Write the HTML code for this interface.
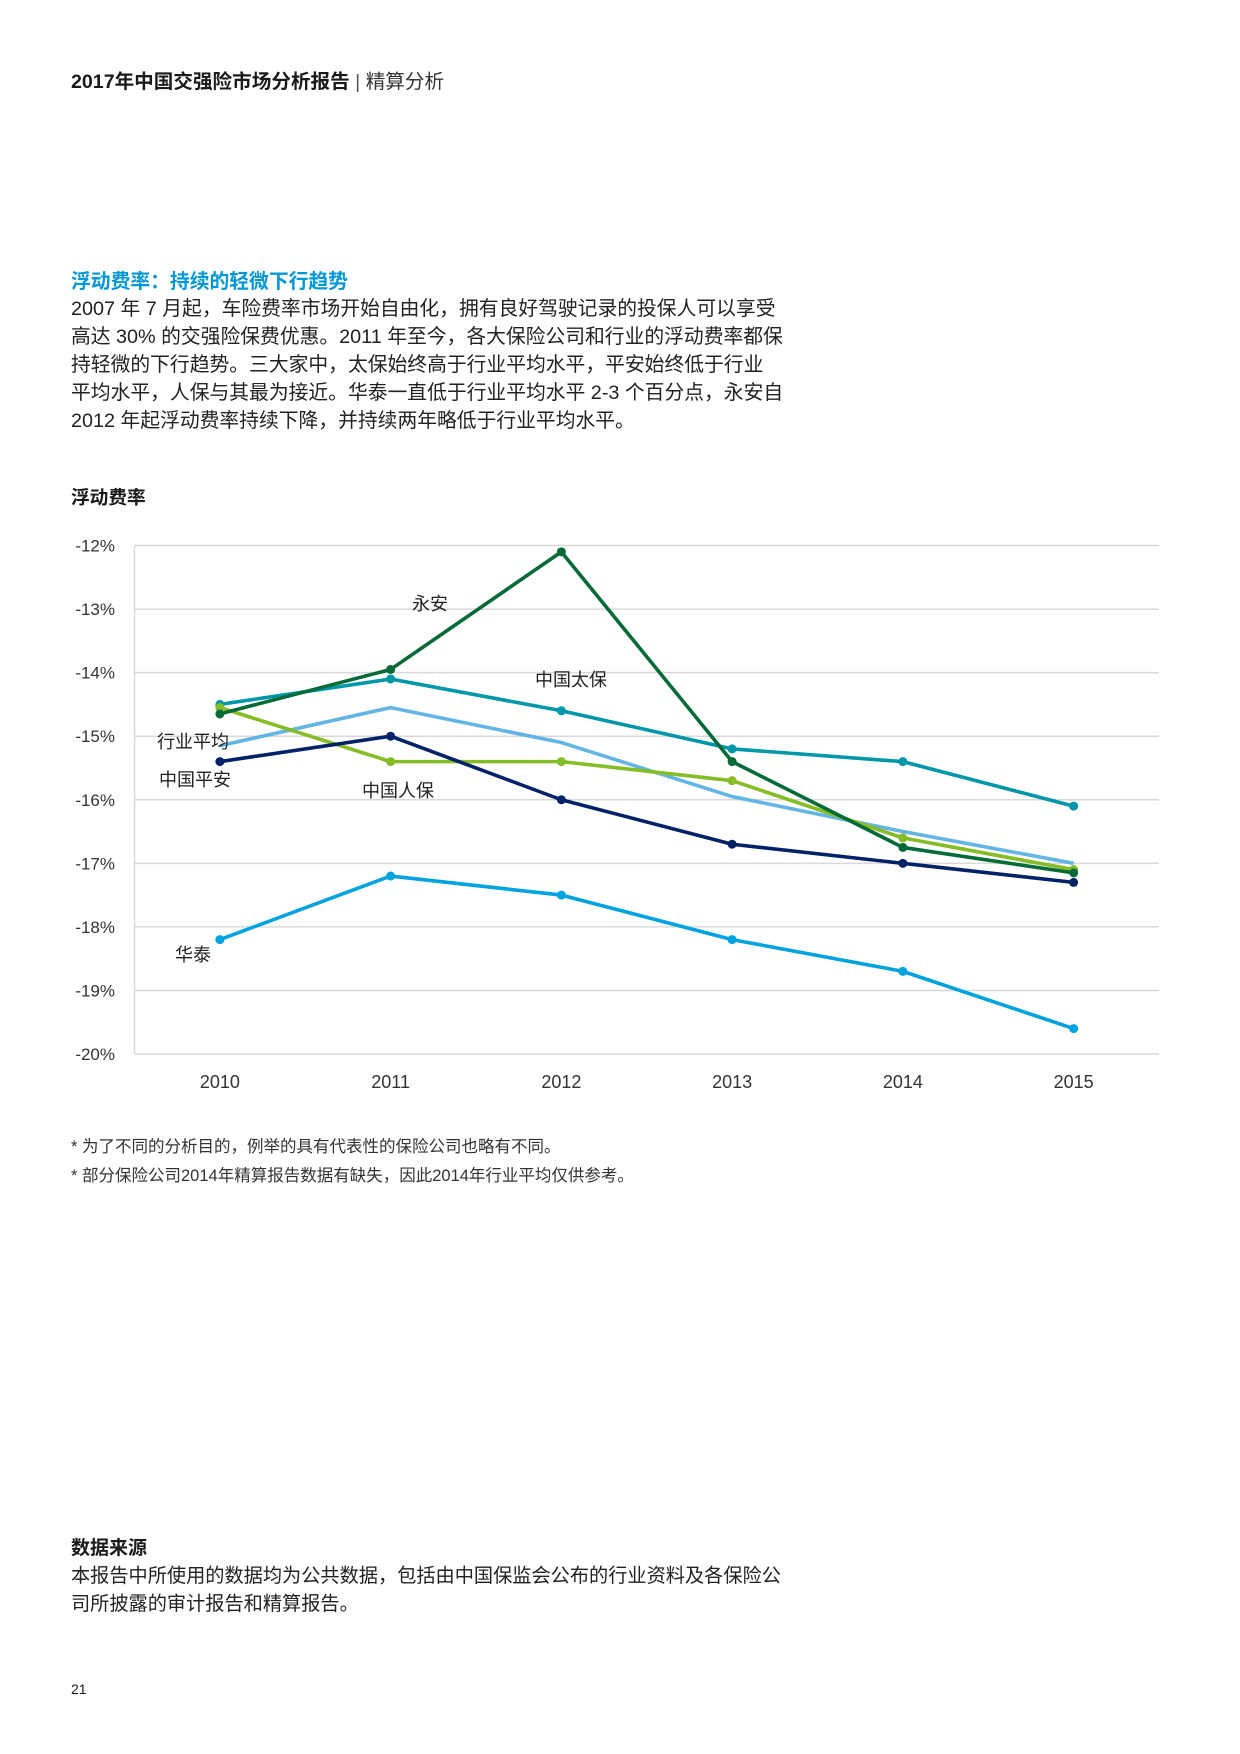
<!DOCTYPE html>
<html><head><meta charset="utf-8">
<style>
body{margin:0;background:#fff;font-family:"Liberation Sans","Noto Sans CJK SC",sans-serif;color:#1a1a1a}
.page{position:relative;width:1240px;height:1754px;overflow:hidden}
.abs{position:absolute;white-space:nowrap}
.para{font-size:19.8px;line-height:28.1px;color:#222}
</style></head><body>
<div class="page">
<div class="abs" style="left:71px;top:65px;font-size:19.6px"><b>2017年中国交强险市场分析报告</b> <span style="color:#555">|</span> <span style="color:#333">精算分析</span></div>
<div class="abs" style="left:71px;top:265px;font-size:19.8px;font-weight:bold;color:#0097d7">浮动费率：持续的轻微下行趋势</div>
<div class="abs para" style="left:71px;top:295px">2007 年 7 月起，车险费率市场开始自由化，拥有良好驾驶记录的投保人可以享受<br>高达 30% 的交强险保费优惠。2011 年至今，各大保险公司和行业的浮动费率都保<br>持轻微的下行趋势。三大家中，太保始终高于行业平均水平，平安始终低于行业<br>平均水平，人保与其最为接近。华泰一直低于行业平均水平 2-3 个百分点，永安自<br>2012 年起浮动费率持续下降，并持续两年略低于行业平均水平。</div>
<div class="abs" style="left:71px;top:483px;font-size:18.7px;font-weight:bold">浮动费率</div>
<svg id="chart" class="abs" style="left:0;top:0" width="1240" height="1200"></svg>
<div class="abs" style="left:71px;top:1133px;font-size:16.5px;color:#333">* 为了不同的分析目的，例举的具有代表性的保险公司也略有不同。</div>
<div class="abs" style="left:71px;top:1162px;font-size:16.5px;color:#333">* 部分保险公司2014年精算报告数据有缺失，因此2014年行业平均仅供参考。</div>
<div class="abs" style="left:71px;top:1533px;font-size:19px;font-weight:bold">数据来源</div>
<div class="abs para" style="left:71px;top:1563px;font-size:19.2px">本报告中所使用的数据均为公共数据，包括由中国保监会公布的行业资料及各保险公<br>司所披露的审计报告和精算报告。</div>
<div class="abs" style="left:71px;top:1681px;font-size:14px">21</div>
</div>
<script>
const years=["2010","2011","2012","2013","2014","2015"];
const yTicks=[-12,-13,-14,-15,-16,-17,-18,-19,-20];
const avgVals=[-15.15,-14.55,-15.1,-15.95,-16.5,-17.0];
const cpicVals=[-14.5,-14.1,-14.6,-15.2,-15.4,-16.1];
const yonganVals=[-14.65,-13.95,-12.1,-15.4,-16.75,-17.15];
const piccVals=[-14.55,-15.4,-15.4,-15.7,-16.6,-17.1];
const pinganVals=[-15.4,-15.0,-16.0,-16.7,-17.0,-17.3];
const huataiVals=[-18.2,-17.2,-17.5,-18.2,-18.7,-19.6];
const NS="http://www.w3.org/2000/svg";
const svg=document.getElementById('chart');
const L=134.5,R=1159,T=545.5,B=1054;
const x=i=>L+(R-L)/years.length*(i+0.5);
const y=v=>T+(-12-v)/8*(B-T);
function mk(t,a){const e=document.createElementNS(NS,t);for(const k in a)e.setAttribute(k,a[k]);svg.appendChild(e);return e;}
yTicks.forEach(v=>{
 const g=mk('line',{x1:L,x2:R,y1:y(v),y2:y(v),stroke:'#d9d9d9','stroke-width':1.5});
 
 
 const t=mk('text',{x:115,y:y(v)+6,'text-anchor':'end','font-size':17,fill:'#333','font-family':'Liberation Sans, sans-serif'});
 t.textContent=v+'%';
 
 
});
const ax=mk('line',{x1:L,x2:L,y1:T,y2:B,stroke:'#d9d9d9','stroke-width':1.5});


years.forEach((yr,i)=>{
 const t=mk('text',{x:x(i),y:1088,'text-anchor':'middle','font-size':18,fill:'#333','font-family':'Liberation Sans, sans-serif'});
 t.textContent=yr;
 
 
});
const series=[
 {n:'industry-average',v:avgVals,c:'#62b5e5',m:false},
 {n:'cpic',v:cpicVals,c:'#0097a9',m:true},
 {n:'picc',v:piccVals,c:'#86bc25',m:true},
 {n:'yongan',v:yonganVals,c:'#046a38',m:true},
 {n:'pingan',v:pinganVals,c:'#012169',m:true},
 {n:'huatai',v:huataiVals,c:'#00a3e0',m:true}
];
series.forEach(s=>{
 const p=mk('polyline',{points:s.v.map((v,i)=>x(i)+','+y(v)).join(' '),fill:'none',stroke:s.c,'stroke-width':3.6,'stroke-linejoin':'round'});
 
 
 if(s.m)s.v.forEach((v,i)=>{
  const c=mk('circle',{cx:x(i),cy:y(v),r:4.5,fill:s.c});
  
  
 });
});
const labels=[['永安',430,610],['中国太保',571,686],['行业平均',193,748],['中国平安',195,786],['中国人保',398,797],['华泰',193,961]];
labels.forEach(l=>{
 const t=mk('text',{x:l[1],y:l[2],'text-anchor':'middle','font-size':18,fill:'#222','font-family':'Liberation Sans, Noto Sans CJK SC, sans-serif'});
 t.textContent=l[0];
 
 
});
</script>
</body></html>
